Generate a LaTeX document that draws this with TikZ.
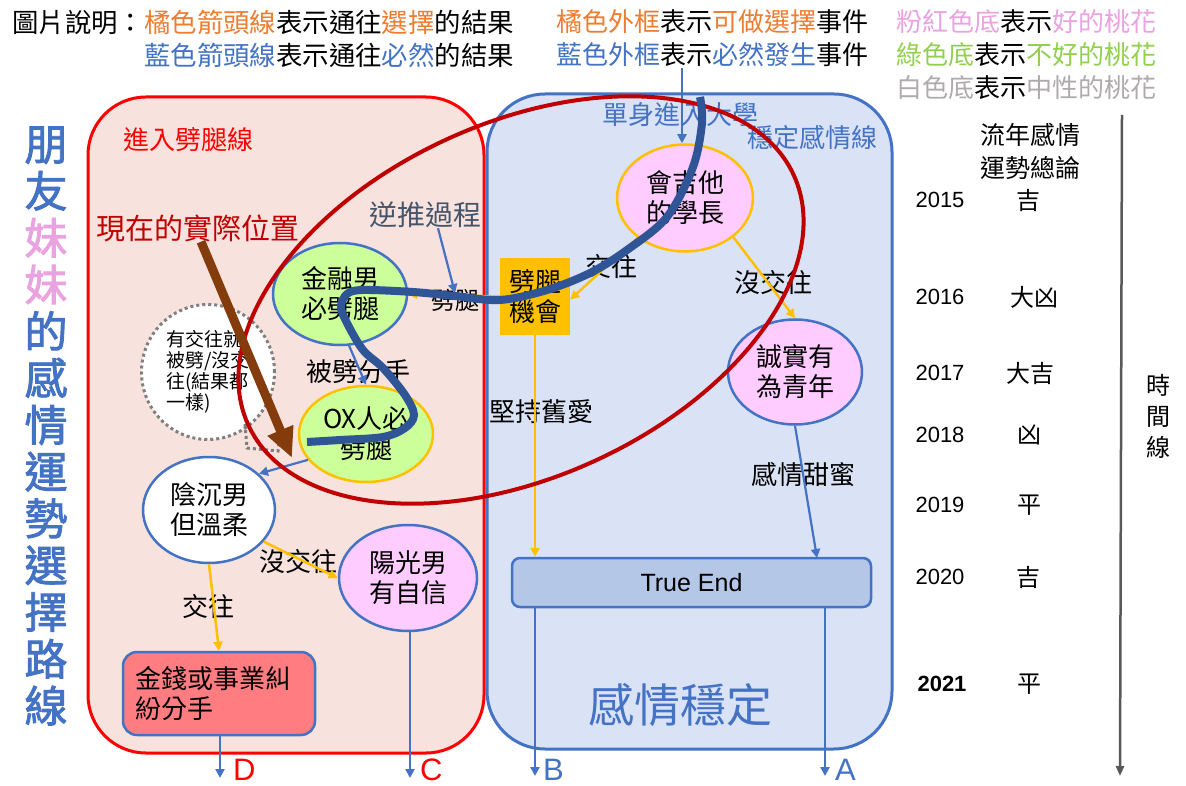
\documentclass[tikz,border=0pt]{standalone}
\usepackage{fontspec}
\setmainfont{Noto Sans CJK TC}
\newfontfamily\arialf{Liberation Sans}
\newfontfamily\titlef[FakeBold=2]{Noto Sans CJK TC}
\usetikzlibrary{shapes.geometric,arrows.meta}
\definecolor{oorange}{HTML}{ED7D31}
\definecolor{oblue}{HTML}{4472C4}
\definecolor{tpink}{HTML}{E9A3E0}
\definecolor{ogreen}{HTML}{92D050}
\definecolor{ogray}{HTML}{AFABAB}
\definecolor{gold}{HTML}{FFC000}
\definecolor{redfill}{HTML}{F7E2DE}
\definecolor{bluefill}{HTML}{DAE3F6}
\definecolor{npink}{HTML}{FFCCFF}
\definecolor{ngreen}{HTML}{CCFF99}
\definecolor{teblue}{HTML}{B4C7E7}
\definecolor{salmon}{HTML}{FF7C80}
\definecolor{darkred}{HTML}{C00000}
\definecolor{navyc}{HTML}{2F5597}
\definecolor{mybrown}{HTML}{843C0C}
\definecolor{slate}{HTML}{44546A}
\definecolor{dgray}{HTML}{7F7F7F}
\definecolor{tgray}{HTML}{595959}
\definecolor{pureRed}{HTML}{FF0000}
\newcommand\fsz[2]{\fontsize{#1}{#2}\selectfont}
\begin{document}
\begin{tikzpicture}[x=1pt,y=-1pt,
  ell/.style={ellipse, line width=2.5pt, inner sep=0pt, align=center, font=\fsz{26}{30}, text=black},
  lbl/.style={font=\fsz{26}{30}, inner sep=0pt, text=black},
  oarr/.style={draw=gold, line width=2.5pt, -{Triangle[length=9pt,width=9pt]}},
  barr/.style={draw=oblue, line width=2.2pt, -{Triangle[length=9pt,width=9pt]}},
  yr/.style={font=\arialf\fsz{22}{24}, inner sep=0pt},
  fort/.style={font=\fsz{24}{26}, inner sep=0pt},
  leg/.style={anchor=west, inner sep=0pt, font=\fsz{26}{30}},
  letter/.style={anchor=base west, inner sep=0pt, text depth=0pt, font=\arialf\fsz{31}{34}}
]
\useasboundingbox (0,0) rectangle (1186,786);
\fill[white] (0,0) rectangle (1186,786);

% legend
\node[leg, font=\fsz{26.4}{30}] (leg1) at (12,22) {圖片說明：\textcolor{oorange}{橘色箭頭線}表示通往\textcolor{oorange}{選擇}的結果};
\node[leg, font=\fsz{26.4}{30}] (leg2) at (144,55) {\textcolor{oblue}{藍色箭頭線}表示通往\textcolor{oblue}{必然}的結果};
\node[leg] (leg3) at (556,22) {\textcolor{oorange}{橘色外框}表示\textcolor{oorange}{可做選擇}事件};
\node[leg] (leg4) at (556,55) {\textcolor{oblue}{藍色外框}表示\textcolor{oblue}{必然發生}事件};
\node[leg] (leg5) at (896,22) {\textcolor{tpink}{粉紅色底}表示\textcolor{tpink}{好的桃花}};
\node[leg] (leg6) at (896,55) {\textcolor{ogreen}{綠色底}表示\textcolor{ogreen}{不好的桃花}};
\node[leg] (leg7) at (896,88) {\textcolor{ogray}{白色底}表示\textcolor{ogray}{中性的桃花}};

% title
\node[font=\titlef\fsz{43}{46.8}, align=center, text=oblue, inner sep=0pt] (title) at (46,426)
 {朋\\友\\\textcolor{tpink}{妹}\\\textcolor{tpink}{妹}\\的\\感\\情\\運\\勢\\選\\擇\\路\\線};

% containers
\node[draw=pureRed, fill=redfill, line width=3pt, rounded corners=58pt, minimum width=396, minimum height=656, inner sep=0pt] (redbox) at (286,425) {};
\node[draw=oblue, fill=bluefill, line width=3pt, rounded corners=58pt, minimum width=405, minimum height=655, inner sep=0pt] (bluebox) at (689.5,421.5) {};

\node[lbl, text=pureRed] (redtitle) at (188,140) {進入劈腿線};
\node[lbl, text=oblue] (single) at (680,115) {單身進入大學};
\node[lbl, text=oblue] (stable) at (812,138) {穩定感情線};
\node[lbl, text=oblue, font=\fsz{46}{50}] (stablebig) at (680,705) {感情穩定};

% nodes
\node[ell, fill=npink, draw=gold, minimum width=136, minimum height=107] (guitar) at (685,198) {會吉他\\的學長};
\node[fill=gold, minimum width=70, minimum height=77, inner sep=0pt, align=center, font=\fsz{26}{30}] (chance) at (535,296.5) {劈腿\\機會};
\node[ell, fill=npink, draw=oblue, minimum width=134, minimum height=105] (honest) at (795,372) {誠實有\\為青年};
\node[draw=oblue, fill=teblue, line width=2.5pt, rounded corners=8pt, minimum width=359, minimum height=49, inner sep=0pt, font=\arialf\fsz{25}{28}] (trueend) at (691.5,582.5) {True End};
\node[ell, fill=ngreen, draw=oblue, minimum width=134, minimum height=102] (finance) at (340,294) {金融男\\必劈腿};
\node[ell, fill=ngreen, draw=gold, minimum width=134, minimum height=96] (ox) at (366,434) {OX人必\\劈腿};
\node[ell, fill=white, draw=dgray, line width=3pt, dash pattern=on 3pt off 3pt, minimum width=133, minimum height=135, align=left, font=\fsz{19}{21}] (dotc) at (208,372) {有交往就\\被劈/沒交\\往(結果都\\一樣)};
\draw[draw=dgray, line width=3pt, dash pattern=on 3pt off 3pt] (245,424) -- (247,448) -- (278,451) -- (279,440);
\node[ell, fill=white, draw=oblue, minimum width=132, minimum height=106] (gloomy) at (209,510) {陰沉男\\但溫柔};
\node[ell, fill=npink, draw=oblue, minimum width=138, minimum height=106] (sunny) at (408,578) {陽光男\\有自信};
\node[draw=oblue, fill=salmon, line width=2.5pt, rounded corners=14pt, minimum width=192, minimum height=83, text width=168, align=left, inner sep=0pt, font=\fsz{26}{30}] (money) at (219,693.5) {金錢或事業糾\\紛分手};

% labels
\node[lbl] (l1) at (611,267) {交往};
\node[lbl] (l2) at (773,283) {沒交往};
\node[lbl] (l3) at (541,412) {堅持舊愛};
\node[lbl] (l4) at (803,475) {感情甜蜜};
\node[lbl] (l5) at (358,372) {被劈分手};
\node[lbl, font=\fsz{24}{28}] (pl) at (455,300) {劈腿};
\node[lbl] (l7) at (298,562) {沒交往};
\node[lbl] (l8) at (208,607) {交往};
\node[lbl, text=slate, font=\fsz{28}{32}] (rev) at (425,215) {逆推過程};
\node[lbl, text=darkred, font=\fsz{29}{32}] (now) at (198,228) {現在的實際位置};

% coordinates
\coordinate (topstart) at (682,68);
\coordinate (aend) at (825,776);
\coordinate (bend) at (535,776);
\coordinate (cend) at (410,778);
\coordinate (dend) at (220,778);
\coordinate (sweet) at (817,558);
\coordinate (nowtip) at (292,458);

% orange arrows
\draw[oarr] (guitar.220) -- (chance.-5);
\draw[oarr] (guitar.-39) -- (honest.north);
\draw[oarr] (chance.south) -- (chance.south |- trueend.north);
\draw[oarr] (chance.west) -- (finance.east);
\draw[oarr] (gloomy.south) -- (money.north);
\draw[oarr] (gloomy.-30) -- (sunny.west);

% blue arrows
\draw[barr] (topstart) -- (topstart |- guitar.north);
\draw[barr] (finance.-80) -- (ox.north);
\draw[barr] (ox.204) -- (gloomy.36);
\draw[barr] (honest.south) -- (sweet);
\draw[barr] ([xshift=13pt]rev.south) -- ([yshift=7pt]pl.center);
\draw[barr] (trueend.south -| bend) -- (bend);
\draw[barr] (trueend.south -| aend) -- (aend);
\draw[barr] (sunny.south -| cend) -- (cend);
\draw[barr] (money.south -| dend) -- (dend);

\node[letter, text=pureRed] (D) at (233,780) {D};
\node[letter, text=pureRed] (C) at (420,780) {C};
\node[letter, text=oblue] (B) at (543,780) {B};
\node[letter, text=oblue] (A) at (835,780) {A};

% red ellipse
\draw[darkred, line width=4pt, rotate around={24.6:(521,300)}] (521,300) ellipse [x radius=300, y radius=177];

% brown arrow
\draw[mybrown, line width=9pt, -{Triangle[length=30pt,width=26pt]}] ([xshift=3pt]now.south) -- (nowtip);

% blue curve
\draw[navyc, line width=8pt] plot[smooth, tension=0.55] coordinates {(700,97) (702,123) (693,167) (667,217) (627,250) (590,273) (547,290) (500,300) (455,296) (413,292) (363,290) (347,294) (341,307) (347,323) (363,350) (383,368) (405,395) (414,415) (405,428) (383,437) (340,440) (307,442)};

% timeline
\coordinate (tstart) at (1122,115);
\coordinate (tend) at (1120,776);
\draw[draw=tgray, line width=2.5pt, -{Triangle[length=10pt,width=8pt]}] (tstart) -- (tend);
\node[font=\fsz{24}{31}, align=center, inner sep=0pt] (tl) at (1158,416) {時\\間\\線};
\node[font=\fsz{25}{33}, align=center, inner sep=0pt] (hdr) at (1030,151) {流年感情\\運勢總論};
\node[yr] (y15) at (940,200) {2015}; \node[fort] (f15) at (1028,200) {吉};
\node[yr] (y16) at (940,297) {2016}; \node[fort] (f16) at (1034,297) {大凶};
\node[yr] (y17) at (940,373) {2017}; \node[fort] (f17) at (1030,373) {大吉};
\node[yr] (y18) at (940,435) {2018}; \node[fort] (f18) at (1029,435) {凶};
\node[yr] (y19) at (940,505) {2019}; \node[fort] (f19) at (1029,505) {平};
\node[yr] (y20) at (940,577) {2020}; \node[fort] (f20) at (1028,577) {吉};
\node[yr, font=\arialf\bfseries\fsz{22}{24}] (y21) at (942,684) {2021}; \node[fort] (f21) at (1029,684) {平};
\end{tikzpicture}
\end{document}
